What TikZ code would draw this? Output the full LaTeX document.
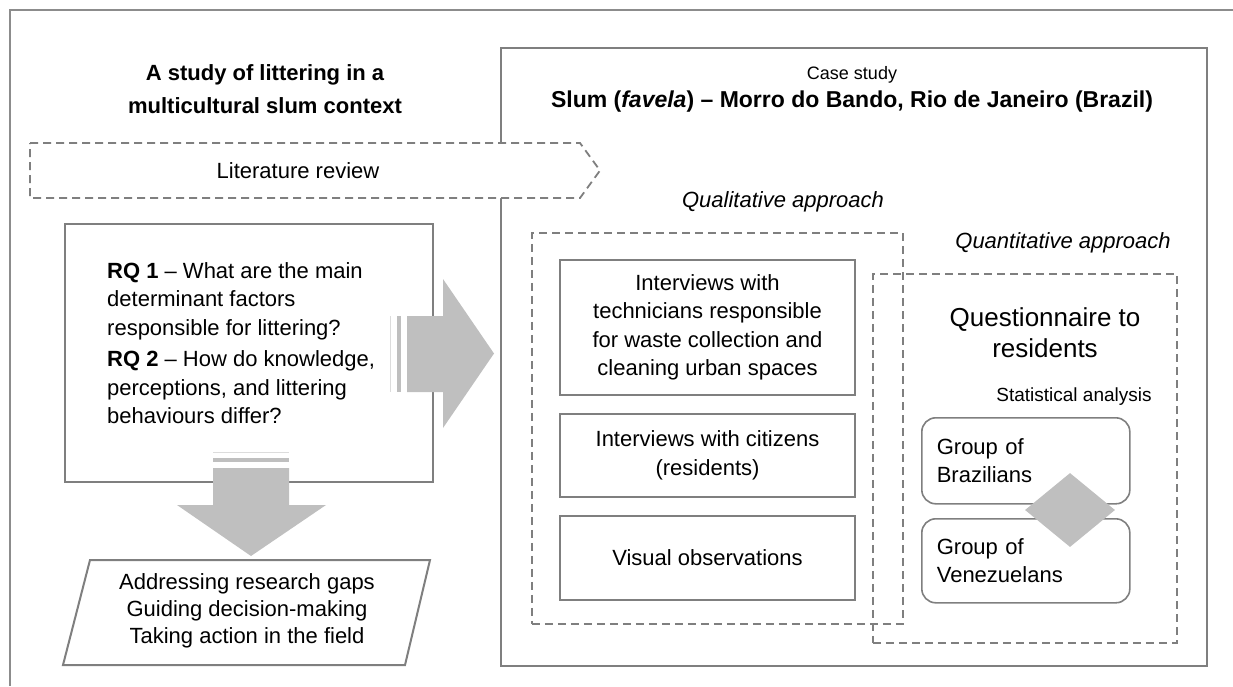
\documentclass[tikz,border=0pt]{standalone}
\usepackage{fontspec}
\setmainfont{Liberation Sans}
\usetikzlibrary{positioning,shapes.geometric}

\definecolor{linegray}{HTML}{7F7F7F}
\definecolor{framegray}{HTML}{8C8C8C}
\definecolor{arrowgray}{HTML}{BFBFBF}

\newcommand{\bodysize}{\fontsize{22}{28.5}\selectfont}

\tikzset{
  box/.style={draw=linegray, line width=2pt, inner sep=0pt},
  dashbox/.style={draw=linegray, line width=1.8pt, dash pattern=on 8pt off 5pt},
  groupbox/.style={draw=linegray, line width=1.6pt, rounded corners=14pt,
    text width=178pt, align=left, inner xsep=15pt, minimum height=86pt},
  block/.style={fill=arrowgray}
}

\begin{document}
\begin{tikzpicture}[x=1pt, y=-1pt, font=\bodysize]
  \useasboundingbox (0,0) rectangle (1233,686);
  % Frame, cut at the right and bottom
  \draw[framegray, line width=1.5pt] (1233,10) -- (10,10) -- (10,686);

  % Left column
  \node[font=\fontsize{22}{33}\selectfont\bfseries, align=center] (title) at (265,89)
    {A study of littering in a\\multicultural slum context};
  \node[box, minimum width=368pt, minimum height=258pt, anchor=north west] (rqbox) at (64,223) {};
  \node[anchor=north west, inner sep=0pt, align=left] (rq) at (107,262)
    {\textbf{RQ 1} -- What are the main\\determinant factors\\responsible for littering?\\[3pt]
     \textbf{RQ 2} -- How do knowledge,\\perceptions, and littering\\behaviours differ?};

  % Case study
  \node[box, minimum width=706pt, minimum height=618pt, anchor=north west] (case) at (500,47) {};
  \node[font=\fontsize{18}{20}\selectfont] (casehead) at (852,75) {Case study};
  \node[font=\fontsize{23}{26}\selectfont\bfseries] (site) at (852,102)
    {Slum (\textit{favela}) -- Morro do Bando, Rio de Janeiro (Brazil)};

  % Literature review runs over both columns
  \draw[dashbox, fill=white] (30,143) -- (580,143) -- (600,170.5) -- (580,198) -- (30,198) -- cycle;
  \node (lit) at (298,171) {Literature review};

  % Qualitative approach
  \node[font=\bodysize\itshape] (qualhead) at (783,202) {Qualitative approach};
  \node[dashbox, minimum width=371pt, minimum height=391pt, anchor=north west] (qual) at (531,232) {};
  \node[box, minimum width=295pt, minimum height=135pt, anchor=north west, align=center] (tech) at (559,259)
    {Interviews with\\technicians responsible\\for waste collection and\\cleaning urban spaces};
  \node[box, minimum width=295pt, minimum height=83pt, align=center, below=17pt of tech] (cit)
    {Interviews with citizens\\(residents)};
  \node[box, minimum width=295pt, minimum height=84pt, below=17pt of cit] (obs) {Visual observations};

  % Quantitative approach
  \node[font=\bodysize\itshape] (quanthead) at (1063,243) {Quantitative approach};
  \node[dashbox, minimum width=304pt, minimum height=369pt, anchor=north west] (quant) at (872,273) {};
  \node[font=\fontsize{26}{31}\selectfont, align=center] (quest) at (1045,333) {Questionnaire to\\residents};
  \node[font=\fontsize{19}{22}\selectfont] (stat) at (1074,397) {Statistical analysis};
  \node[groupbox, anchor=north west] (bra) at (921,417) {Group of\\Brazilians};
  \node[groupbox, anchor=north west, minimum height=84pt] (ven) at (921,518) {Group of\\Venezuelans};
  \node[diamond, block, inner sep=0pt, minimum width=90pt, minimum height=74pt] (cmp) at (1070,510) {};

  % Block arrows
  \fill[arrowgray!55] (389.5,316) rectangle (391,392);
  \fill[block] (397,316) rectangle (401,392);
  \fill[block] (407,316) -- (443,316) -- (443,279) -- (494,353.5) -- (443,428) -- (443,392) -- (407,392) -- cycle;
  \fill[arrowgray!55] (213,451.5) rectangle (289,453);
  \fill[block] (213,458) rectangle (289,462);
  \fill[block] (213,468) -- (289,468) -- (289,505) -- (326,505) -- (251,556) -- (177,505) -- (213,505) -- cycle;

  % Outcomes
  \draw[linegray, line width=2pt] (90,560) -- (430,560) -- (405,665) -- (63,665) -- cycle;
  \node[align=center, font=\fontsize{22}{27}\selectfont] (aims) at (247,611)
    {Addressing research gaps\\Guiding decision-making\\Taking action in the field};
\end{tikzpicture}
\end{document}
